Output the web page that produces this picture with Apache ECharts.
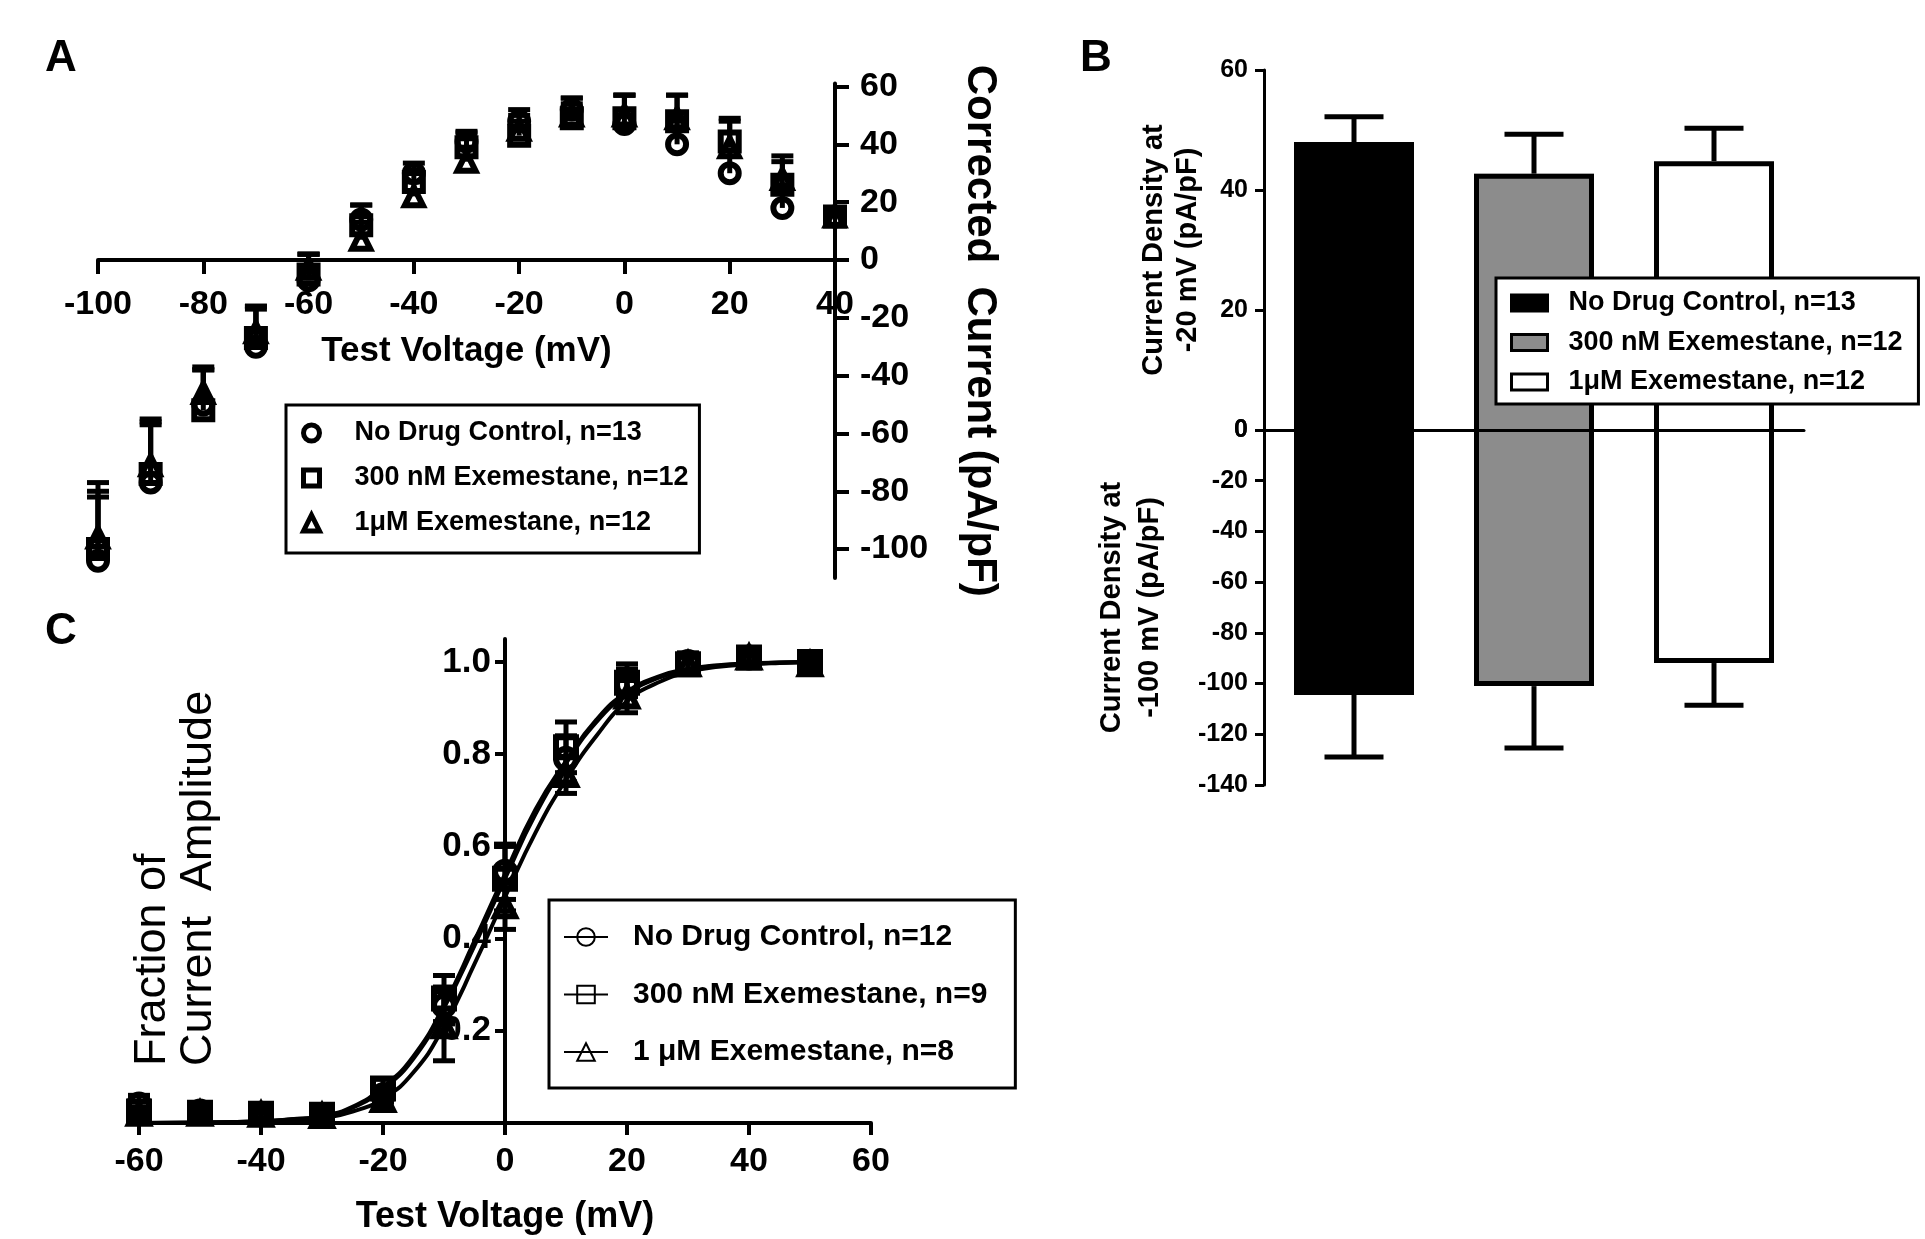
<!DOCTYPE html>
<html><head><meta charset="utf-8">
<script src="https://cdn.jsdelivr.net/npm/echarts@6/dist/echarts.min.js"></script>
<style>
html,body{margin:0;padding:0;background:#fff;width:1925px;height:1239px;overflow:hidden}
.c{position:absolute;left:0;top:0;width:1925px;height:1239px}
</style></head>
<body>
<div id="pa" class="c"></div><div id="pb" class="c"></div><div id="pc" class="c"></div>
<script>
// ---------- Panel A data ----------
const namesA = ['No Drug Control, n=13', '300 nM Exemestane, n=12', '1\u03bcM Exemestane, n=12'];
const voltsA = [-100, -90, -80, -70, -60, -50, -40, -30, -20, -10, 0, 10, 20, 30, 40];
const ctrlA  = [-104, -77, -50, -30, -7, 14, 30, 41, 48, 52, 47, 40, 30, 18, 15];
const sqA    = [-100, -74, -52, -27, -5, 12, 27, 39, 43, 49, 49, 48, 41, 26, 15];
const triA   = [-96, -71, -46, -25, -3, 7, 22, 34, 45, 50, 50, 49, 39, 28, 15];
const ctrlAErr = [22, 20, 12, 13, 9, 5, 3.5, 3.5, 4, 4, 10, 8, 8, 8, 2];
const sqAErr   = [20, 19, 14, 11, 7, 7, 4, 5, 5, 5, 8, 9, 8, 8, 2];
const triAErr  = [19, 15, 9, 9, 5, 6, 5, 5, 5, 6, 7, 8, 9, 8, 2];
const yTicksA = [-100, -80, -60, -40, -20, 0, 20, 40, 60];

// ---------- Panel B data ----------
const namesB = ['No Drug Control, n=13', '300 nM Exemestane, n=12', '1\u03bcM Exemestane, n=12'];
const catsB = ['Control', '300 nM', '1 uM'];
const upB = [48, 42.7, 44.8];
const upBErr = [4.2, 6.6, 5.5];
const lowB = [-104.5, -101, -91.9];
const lowBErr = [-24.5, -24.4, -16.6];

// ---------- Panel C data ----------
const namesC = ['No Drug Control, n=12', '300 nM Exemestane, n=9', '1 \u03bcM Exemestane, n=8'];
const voltsC = [-60, -50, -40, -30, -20, -10, 0, 10, 20, 30, 40, 50];
const ctrlC = [0.04, 0.025, 0.02, 0.015, 0.06, 0.255, 0.545, 0.79, 0.95, 1.0, 1.01, 1.0];
const sqC   = [0.025, 0.022, 0.02, 0.018, 0.075, 0.27, 0.53, 0.815, 0.955, 0.995, 1.01, 1.0];
const triC  = [0.02, 0.02, 0.018, 0.015, 0.05, 0.21, 0.47, 0.755, 0.925, 0.995, 1.01, 0.995];
const ctrlCErr = [0.02, 0.01, 0.01, 0.01, 0.015, 0.04, 0.06, 0.05, 0.046, 0.02, 0.01, 0.01];
const sqCErr   = [0.01, 0.01, 0.01, 0.01, 0.02, 0.05, 0.07, 0.055, 0.03, 0.02, 0.01, 0.01];
const triCErr  = [0.01, 0.01, 0.01, 0.01, 0.02, 0.075, 0.05, 0.04, 0.035, 0.015, 0.01, 0.01];
const fitV    = [-60, -50, -40, -35, -30, -25, -20, -15, -10, -5, 0, 5, 10, 15, 20, 25, 30, 35, 40, 45, 50];
const fitCtrl = [0.0, 0.001, 0.004, 0.008, 0.015, 0.035, 0.078, 0.145, 0.255, 0.395, 0.54, 0.68, 0.785, 0.875, 0.935, 0.968, 0.985, 0.993, 0.997, 0.999, 1.0];
const fitSq   = [0.0, 0.001, 0.004, 0.008, 0.014, 0.033, 0.074, 0.14, 0.25, 0.385, 0.53, 0.67, 0.78, 0.87, 0.93, 0.965, 0.983, 0.992, 0.996, 0.999, 1.0];
const fitTri  = [0.0, 0.0, 0.002, 0.005, 0.01, 0.025, 0.053, 0.11, 0.21, 0.345, 0.49, 0.63, 0.745, 0.84, 0.915, 0.955, 0.978, 0.99, 0.995, 0.998, 1.0];
const yTicksC = [0.2, 0.4, 0.6, 0.8, 1.0];

const FF = '"Liberation Sans", Arial, Helvetica, sans-serif';
const BLK = '#000';
const CLEAR = 'rgba(0,0,0,0)';

function errRender(capW, lw, both) {
  return function (params, api) {
    const x = api.value(0), y = api.value(1), e = api.value(2);
    const pt = api.coord([x, y]);
    const hi = api.coord([x, y + e]);
    const lo = both ? api.coord([x, y - e]) : pt;
    const hw = capW / 2;
    const st = { stroke: BLK, lineWidth: lw };
    const ch = [
      { type: 'line', shape: { x1: pt[0], y1: lo[1], x2: pt[0], y2: hi[1] }, style: st },
      { type: 'line', shape: { x1: hi[0] - hw, y1: hi[1], x2: hi[0] + hw, y2: hi[1] }, style: st }
    ];
    if (both) ch.push({ type: 'line', shape: { x1: lo[0] - hw, y1: lo[1], x2: lo[0] + hw, y2: lo[1] }, style: st });
    return { type: 'group', children: ch };
  };
}
// three-sided outline of a bar (open on the zero side)
function outlineRender(barW, lw) {
  return function (params, api) {
    const k = api.value(0), v = api.value(1);
    const base = api.coord([k, 0]);
    const top = api.coord([k, v]);
    const hw = barW / 2 - lw / 2;
    const yEdge = top[1] + (v >= 0 ? 1 : -1) * lw / 2;
    return { type: 'polyline', shape: { points: [[base[0] - hw, base[1]], [base[0] - hw, yEdge], [base[0] + hw, yEdge], [base[0] + hw, base[1]]] },
      style: { stroke: BLK, lineWidth: lw, fill: null, lineJoin: 'miter' } };
  };
}
function triples(xs, ys, es) { return xs.map((x, i) => [x, ys[i], es[i]]); }
function pairs(xs, ys) { return xs.map((x, i) => [x, ys[i]]); }
function panelLabel(t, x, y) {
  return { type: 'text', x: x, y: y, style: { text: t, font: 'bold 44px ' + FF, fill: BLK, textAlign: 'center', textVerticalAlign: 'middle', verticalAlign: 'middle' } };
}
const axLine = { color: BLK, width: 4 };

// ================= Panel A =================
const gridA = { left: 98, top: 83.6, width: 737, height: 494.4 };
const yMinA = -110, yMaxA = 61;
const xOffA = -gridA.height * (0 - yMinA) / (yMaxA - yMinA);
const symA = ['circle', 'rect', 'triangle'];
const seriesA = [];
[[ctrlA, ctrlAErr], [sqA, sqAErr], [triA, triAErr]].forEach((d, k) => {
  seriesA.push({ type: 'custom', name: 'errA' + k, renderItem: errRender(22, 5, false), data: triples(voltsA, d[0], d[1]), encode: { x: 0, y: 1 }, z: 2 });
});
[ctrlA, sqA, triA].forEach((d, k) => {
  seriesA.push({ type: 'scatter', name: namesA[k], symbol: symA[k], symbolSize: 18, clip: false, data: pairs(voltsA, d),
    itemStyle: { color: CLEAR, borderColor: BLK, borderWidth: 6, opacity: 1 }, z: 3 });
});
const optA = {
  animation: false,
  textStyle: { fontFamily: FF },
  graphic: [panelLabel('A', 61, 59)],
  grid: Object.assign({ containLabel: false, outerBoundsMode: 'none' }, gridA),
  xAxis: {
    type: 'value', min: -100, max: 40, interval: 20, position: 'bottom', offset: xOffA,
    axisLine: { show: true, onZero: false, lineStyle: axLine },
    axisTick: { show: true, length: 14, lineStyle: { color: BLK, width: 4 } },
    axisLabel: { fontSize: 34, fontWeight: 'bold', color: BLK, margin: 28, fontFamily: FF, showMinLabel: true, showMaxLabel: true },
    splitLine: { show: false },
    name: 'Test Voltage (mV)', nameLocation: 'middle', nameGap: 74, nameMoveOverlap: false,
    nameTextStyle: { fontSize: 35, fontWeight: 'bold', color: BLK, fontFamily: FF }
  },
  yAxis: {
    type: 'value', position: 'right', min: yMinA, max: yMaxA,
    axisLine: { show: true, onZero: false, lineStyle: axLine },
    axisTick: { show: true, customValues: yTicksA, length: 14, lineStyle: { color: BLK, width: 4 } },
    axisLabel: { customValues: yTicksA, fontSize: 34, fontWeight: 'bold', color: BLK, margin: 25, fontFamily: FF },
    splitLine: { show: false },
    name: 'Corrected  Current (pA/pF)', nameLocation: 'middle', nameRotate: -90, nameGap: 124, nameMoveOverlap: false,
    nameTextStyle: { fontSize: 42, fontWeight: 'bold', color: BLK, fontFamily: FF }
  },
  legend: {
    orient: 'vertical', left: 286, top: 405,
    data: namesA.map((n, k) => ({ name: n, icon: symA[k], itemStyle: { color: CLEAR, borderColor: BLK, borderWidth: 5 } })),
    itemWidth: 16, itemHeight: 16, itemGap: 17,
    padding: [14, 11, 16, 15],
    borderColor: BLK, borderWidth: 3, backgroundColor: '#fff',
    selectedMode: false,
    textStyle: { fontSize: 27, fontWeight: 'bold', color: BLK, lineHeight: 28, fontFamily: FF, padding: [0, 0, 0, 30] }
  },
  series: seriesA
};

// ================= Panel B =================
const fillsB = ['#000', '#8c8c8c', '#fff'];
const barWB = 120;
const seriesB = [];
[0, 1].forEach(g => {
  const vals = g === 0 ? upB : lowB;
  namesB.forEach((n, k) => {
    const d = ['-', '-', '-']; d[k] = vals[k];
    seriesB.push({ type: 'bar', name: n, xAxisIndex: g, yAxisIndex: g, data: d, barWidth: barWB, barGap: '-100%',
      itemStyle: { color: fillsB[k], borderWidth: 0 }, z: 2 });
  });
  seriesB.push({ type: 'custom', name: 'outlineB' + g, xAxisIndex: g, yAxisIndex: g, renderItem: outlineRender(barWB, 5),
    data: pairs([0, 1, 2], vals), encode: { x: 0, y: 1 }, z: 3 });
  const errs = g === 0 ? upBErr : lowBErr;
  seriesB.push({ type: 'custom', name: 'errB' + g, xAxisIndex: g, yAxisIndex: g, renderItem: errRender(59, 5, false),
    data: triples([0, 1, 2], vals, errs), encode: { x: 0, y: 1 }, z: 1 });
});
const yAxB = (g, mn, mx, name, gap, lh) => ({
  gridIndex: g, type: 'value', min: mn, max: mx, interval: 20,
  axisLine: { show: true, onZero: false, lineStyle: { color: BLK, width: 3 } },
  axisTick: { show: true, length: 9, lineStyle: { color: BLK, width: 3 } },
  axisLabel: { fontSize: 25, fontWeight: 'bold', color: BLK, margin: 16, fontFamily: FF, showMinLabel: true, showMaxLabel: true },
  splitLine: { show: false },
  name: name, nameLocation: 'middle', nameRotate: 90, nameGap: gap, nameMoveOverlap: false,
  nameTextStyle: { fontSize: 29, fontWeight: 'bold', color: BLK, lineHeight: lh, fontFamily: FF, align: 'center' }
});
const optB = {
  animation: false,
  textStyle: { fontFamily: FF },
  graphic: [panelLabel('B', 1096, 59)],
  grid: [
    { left: 1264, top: 70, width: 540, height: 360, containLabel: false, outerBoundsMode: 'none' },
    { left: 1264, top: 430, width: 540, height: 355, containLabel: false, outerBoundsMode: 'none' }
  ],
  xAxis: [
    { gridIndex: 0, type: 'category', data: catsB, axisLine: { show: true, onZero: false, lineStyle: { color: BLK, width: 3 } }, axisTick: { show: false }, axisLabel: { show: false }, splitLine: { show: false }, z: 5 },
    { gridIndex: 1, type: 'category', data: catsB, show: false }
  ],
  yAxis: [
    yAxB(0, 0, 60, 'Current Density at\n-20 mV (pA/pF)', 59, 34),
    yAxB(1, -140, 0, 'Current Density at\n-100 mV (pA/pF)', 95, 38)
  ],
  legend: {
    orient: 'vertical', left: 1496, top: 278,
    data: namesB.map((n, k) => ({ name: n, icon: 'rect', itemStyle: { color: fillsB[k], borderColor: BLK, borderWidth: 3 } })),
    itemWidth: 36, itemHeight: 16, itemGap: 11.5,
    padding: [11, 16, 8, 14],
    borderColor: BLK, borderWidth: 3, backgroundColor: '#fff',
    selectedMode: false, z: 10,
    textStyle: { fontSize: 27, fontWeight: 'bold', color: BLK, lineHeight: 28, fontFamily: FF, padding: [0, 0, 0, 16] }
  },
  series: seriesB
};

// ================= Panel C =================
const gridC = { left: 139, top: 639, width: 732, height: 484 };
const xMinC = -60, xMaxC = 60;
const yOffC = -gridC.width * (0 - xMinC) / (xMaxC - xMinC);
const symC = ['circle', 'rect', 'triangle'];
const seriesC = [];
[fitCtrl, fitSq, fitTri].forEach((d, k) => {
  seriesC.push({ type: 'line', name: namesC[k], data: pairs(fitV, d), smooth: true, symbol: symC[k], showSymbol: false,
    lineStyle: { color: BLK, width: 4 }, itemStyle: { color: CLEAR, borderColor: BLK, borderWidth: 3 }, z: 1 });
});
[[ctrlC, ctrlCErr], [sqC, sqCErr], [triC, triCErr]].forEach((d, k) => {
  seriesC.push({ type: 'custom', name: 'errC' + k, renderItem: errRender(22, 5, true), data: triples(voltsC, d[0], d[1]), encode: { x: 0, y: 1 }, z: 2 });
});
[ctrlC, sqC, triC].forEach((d, k) => {
  seriesC.push({ type: 'scatter', name: 'pts' + k, symbol: symC[k], symbolSize: 20, clip: false, data: pairs(voltsC, d),
    itemStyle: { color: CLEAR, borderColor: BLK, borderWidth: 6, opacity: 1 }, z: 3 });
});
const optC = {
  animation: false,
  textStyle: { fontFamily: FF },
  graphic: [
    panelLabel('C', 61, 632),
    { type: 'text', x: 176, y: 1066, rotation: Math.PI / 2,
      style: { text: 'Fraction of\nCurrent  Amplitude', font: '45px ' + FF, fill: BLK, textAlign: 'left', textVerticalAlign: 'middle', verticalAlign: 'middle', lineHeight: 46 } }
  ],
  grid: Object.assign({ containLabel: false, outerBoundsMode: 'none' }, gridC),
  xAxis: {
    type: 'value', min: xMinC, max: xMaxC, interval: 20,
    axisLine: { show: true, onZero: false, lineStyle: axLine },
    axisTick: { show: true, length: 12, lineStyle: { color: BLK, width: 4 } },
    axisLabel: { fontSize: 34, fontWeight: 'bold', color: BLK, margin: 22, fontFamily: FF, showMinLabel: true, showMaxLabel: true },
    splitLine: { show: false },
    name: 'Test Voltage (mV)', nameLocation: 'middle', nameGap: 76, nameMoveOverlap: false,
    nameTextStyle: { fontSize: 36, fontWeight: 'bold', color: BLK, fontFamily: FF }
  },
  yAxis: {
    type: 'value', min: 0, max: 1.05, position: 'left', offset: yOffC,
    axisLine: { show: true, onZero: false, lineStyle: axLine },
    axisTick: { show: true, customValues: yTicksC, length: 10, lineStyle: { color: BLK, width: 4 } },
    axisLabel: { customValues: yTicksC, formatter: v => v.toFixed(1), fontSize: 35, fontWeight: 'bold', color: BLK, margin: 14, fontFamily: FF },
    splitLine: { show: false }
  },
  legend: {
    orient: 'vertical', left: 549, top: 900,
    data: namesC,
    itemWidth: 44, itemHeight: 22, itemGap: 27.5,
    padding: [22, 28, 21, 14],
    borderColor: BLK, borderWidth: 3, backgroundColor: '#fff',
    selectedMode: false,
    textStyle: { fontSize: 30, fontWeight: 'bold', color: BLK, lineHeight: 30, fontFamily: FF, padding: [0, 0, 0, 20] }
  },
  series: seriesC
};

echarts.init(document.getElementById('pa'), null, { renderer: 'canvas' }).setOption(optA);
echarts.init(document.getElementById('pb'), null, { renderer: 'canvas' }).setOption(optB);
echarts.init(document.getElementById('pc'), null, { renderer: 'canvas' }).setOption(optC);
</script>
</body></html>
